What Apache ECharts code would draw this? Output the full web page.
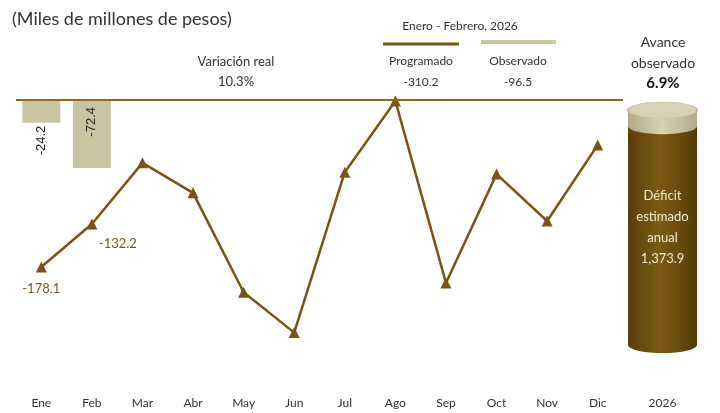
<!DOCTYPE html>
<html>
<head>
<meta charset="utf-8">
<script src="https://cdn.jsdelivr.net/npm/echarts@6/dist/echarts.min.js"></script>
<style>
  html, body { margin: 0; padding: 0; background: #fff; }
  #main { width: 720px; height: 413px; }
</style>
</head>
<body>
<div id="main"></div>
<script>
// datos
var meses = ['Ene', 'Feb', 'Mar', 'Abr', 'May', 'Jun', 'Jul', 'Ago', 'Sep', 'Oct', 'Nov', 'Dic']
var programado = [-178.1, -132.2, -67, -99, -205, -248, -77, -1, -195, -79, -129, -48]
var observado = [-24.2, -72.4]
var etiquetasProgramado = [0, 1]   // meses con etiqueta en la linea
var anio = ['2026']
var deficitAnual = 1373.9
var avancePct = 6.9
var acumProgramado = -310.2
var acumObservado = -96.5
var variacionReal = 10.3

var font = 'Lato'
var cafe = '#7a5410'
var beige = '#c9c5a1'

var myChart = echarts.init(document.getElementById('main'))

var fmt = function (v) {
    return v.toLocaleString('en-US', { minimumFractionDigits: 1, maximumFractionDigits: 1 })
}

var observadoAnual = deficitAnual * avancePct / 100

var lineData = programado.map(function (v, i) {
    var item = { value: v }
    if (etiquetasProgramado.indexOf(i) > -1) {
        item.label = {
            show: true,
            position: 'bottom',
            distance: 10,
            offset: i === 1 ? [26, -2] : [0, 0],
            color: '#7a5a20',
            fontSize: 13,
            fontFamily: font,
            formatter: fmt(v)
        }
    }
    return item
})

var barData = observado.map(function (v, i) {
    return {
        value: v,
        label: {
            show: true,
            position: i === 0 ? 'bottom' : 'insideTop',
            distance: i === 0 ? 3 : 7,
            rotate: 90,
            align: 'right',
            verticalAlign: 'middle',
            color: '#222',
            fontSize: 13,
            fontFamily: 'Liberation Sans',
            formatter: fmt(v)
        }
    }
})

var gradCafe = new echarts.graphic.LinearGradient(0, 0, 1, 0, [
    { offset: 0, color: '#5a3d0a' },
    { offset: 0.45, color: '#7c5a14' },
    { offset: 1, color: '#573a08' }
])
var gradBeige = new echarts.graphic.LinearGradient(0, 0, 1, 0, [
    { offset: 0, color: '#b1aa84' },
    { offset: 0.5, color: '#d6d2b2' },
    { offset: 1, color: '#b1aa84' }
])

var option = {
    animation: false,
    title: {
        text: '(Miles de millones de pesos)',
        left: 7,
        top: 5,
        textStyle: { fontFamily: font, fontSize: 18, fontWeight: 'normal', color: '#333' }
    },
    grid: [
        { left: 16, width: 607, top: 100, height: 281.4 },
        { left: 628, width: 69, top: 110, height: 235 }
    ],
    xAxis: [
        {
            type: 'category', data: meses, gridIndex: 0,
            axisLine: { show: false }, axisTick: { show: false },
            axisLabel: { margin: 16, color: '#333', fontSize: 12, fontFamily: font }
        },
        {
            type: 'category', data: anio, gridIndex: 1,
            axisLine: { show: false }, axisTick: { show: false },
            axisLabel: { margin: 52, color: '#333', fontSize: 12, fontFamily: font }
        }
    ],
    yAxis: [
        { type: 'value', gridIndex: 0, min: -300, max: 0, show: false },
        { type: 'value', gridIndex: 1, min: 0, max: deficitAnual, inverse: true, show: false }
    ],
    graphic: [
        {
            type: 'text', x: 236, y: 52, style: {
                text: 'Variación real\n' + variacionReal.toFixed(1) + '%', align: 'center',
                fill: '#333', fontSize: 13, lineHeight: 20, fontFamily: font
            }
        },
        {
            type: 'text', x: 460, y: 20, style: {
                text: 'Enero - Febrero, 2026', align: 'center', fill: '#333', fontSize: 12, fontFamily: font
            }
        },
        { type: 'line', shape: { x1: 383, y1: 44, x2: 459, y2: 44 }, style: { stroke: cafe, lineWidth: 3 } },
        { type: 'line', shape: { x1: 481, y1: 42, x2: 556, y2: 42 }, style: { stroke: beige, lineWidth: 4 } },
        {
            type: 'text', x: 421, y: 51, style: {
                text: 'Programado\n' + fmt(acumProgramado), align: 'center', fill: '#333',
                fontSize: 12, lineHeight: 21, fontFamily: font
            }
        },
        {
            type: 'text', x: 518, y: 51, style: {
                text: 'Observado\n' + fmt(acumObservado), align: 'center', fill: '#333',
                fontSize: 12, lineHeight: 21, fontFamily: font
            }
        },
        {
            type: 'text', x: 663, y: 32, style: {
                text: 'Avance\nobservado', align: 'center', fill: '#333',
                fontSize: 14, lineHeight: 21, fontFamily: font
            }
        },
        {
            type: 'text', x: 663, y: 76, style: {
                text: avancePct.toFixed(1) + '%', align: 'center', fill: '#111',
                fontSize: 15, fontWeight: 'bold', fontFamily: font
            }
        }
    ],
    series: [
        {
            name: 'Observado',
            type: 'bar',
            xAxisIndex: 0, yAxisIndex: 0,
            barWidth: 38,
            itemStyle: { color: beige },
            data: barData
        },
        {
            name: 'Programado',
            type: 'line',
            xAxisIndex: 0, yAxisIndex: 0,
            clip: false,
            symbol: 'triangle',
            symbolSize: 11,
            lineStyle: { color: cafe, width: 2.5 },
            itemStyle: { color: cafe },
            data: lineData,
            z: 3,
            markLine: {
                silent: true,
                symbol: 'none',
                label: { show: false },
                lineStyle: { color: '#8a6a1c', width: 2, type: 'solid' },
                data: [{ yAxis: 0 }]
            }
        },
        // cilindro
        {
            type: 'scatter', xAxisIndex: 1, yAxisIndex: 1,
            symbol: 'circle', symbolSize: [69, 16],
            itemStyle: { color: gradCafe, opacity: 1 },
            data: [deficitAnual], z: 1
        },
        {
            type: 'bar', xAxisIndex: 1, yAxisIndex: 1, stack: 'cil',
            barWidth: 69,
            itemStyle: { color: gradBeige },
            data: [observadoAnual], z: 2
        },
        {
            type: 'bar', xAxisIndex: 1, yAxisIndex: 1, stack: 'cil',
            barWidth: 69,
            itemStyle: { color: gradCafe },
            label: {
                show: true, position: 'inside', offset: [0, -8],
                color: '#f1ecd6', fontSize: 13, lineHeight: 21, fontFamily: font,
                formatter: 'Déficit\nestimado\nanual\n' + fmt(deficitAnual)
            },
            data: [deficitAnual - observadoAnual], z: 2
        },
        {
            type: 'scatter', xAxisIndex: 1, yAxisIndex: 1,
            symbol: 'circle', symbolSize: [69, 16],
            itemStyle: { color: gradBeige, opacity: 1 },
            data: [observadoAnual], z: 3
        },
        {
            type: 'scatter', xAxisIndex: 1, yAxisIndex: 1,
            symbol: 'circle', symbolSize: [69, 16],
            itemStyle: { color: '#d7d3b2', borderColor: '#c2bc98', borderWidth: 1, opacity: 1 },
            data: [0], z: 4
        }
    ]
}

myChart.setOption(option)
</script>
</body>
</html>
